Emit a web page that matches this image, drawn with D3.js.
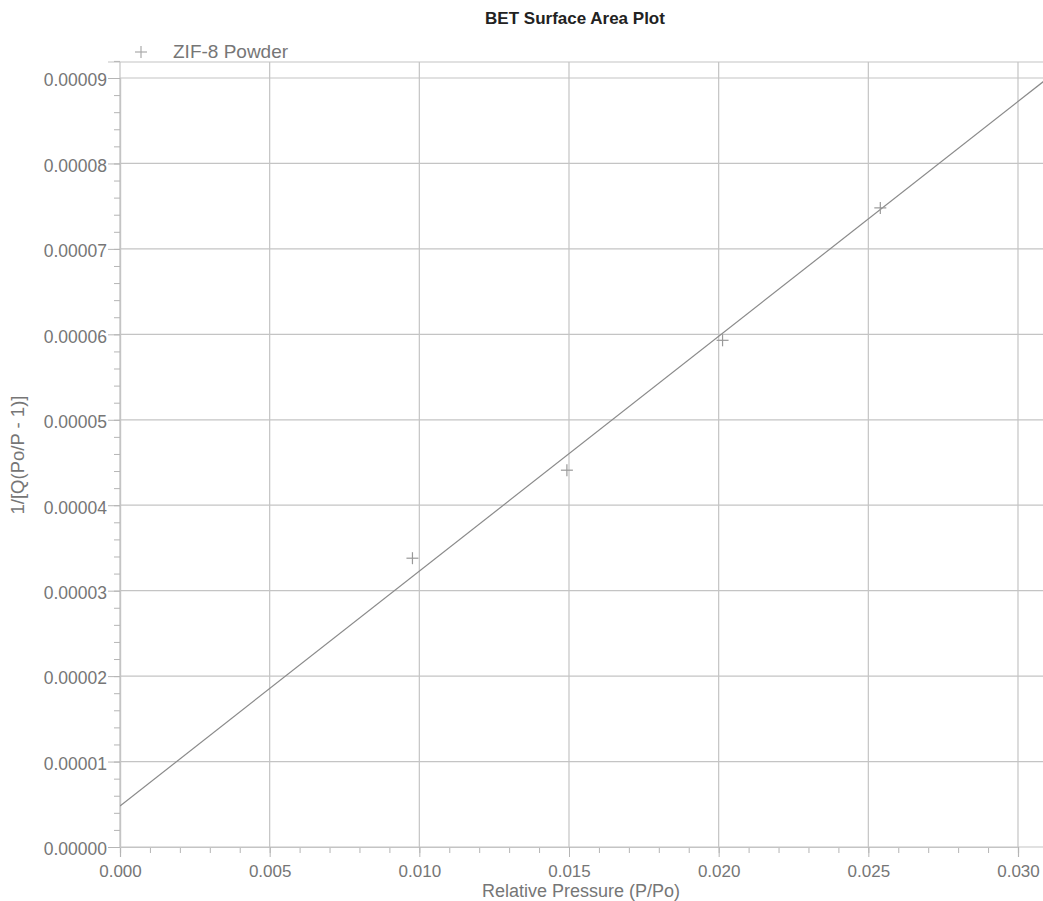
<!DOCTYPE html>
<html><head><meta charset="utf-8">
<script src="https://cdn.jsdelivr.net/npm/d3@7"></script>
<style>body{margin:0;background:#fff;} svg{display:block;}</style>
</head><body>
<svg id="c" width="1043" height="901"></svg>
<script>
const title = "BET Surface Area Plot";
const seriesName = "ZIF-8 Powder";
const xLabel = "Relative Pressure (P/Po)";
const yLabel = "1/[Q(Po/P - 1)]";
const pointsX = [0.00977, 0.01493, 0.02013, 0.0254];
const pointsY = [0.0000338, 0.0000441, 0.0000593, 0.0000748];
const fitX = [0.0, 0.031];
const fitY = [0.0000048, 0.0000900];
const xTicks = [0, 0.005, 0.010, 0.015, 0.020, 0.025, 0.030];
const yTicks = [0, 0.00001, 0.00002, 0.00003, 0.00004, 0.00005, 0.00006, 0.00007, 0.00008, 0.00009];

const svg = d3.select("#c");
const L = 120, R = 1043, T = 62, B = 847;
const x = d3.scaleLinear().domain([0, 0.030]).range([L, 1018]);
const y = d3.scaleLinear().domain([0, 0.00009]).range([B, 78]);
const txt = "#767676", grid = "#c4c4c4", font = "Arial, 'Liberation Sans', sans-serif";

svg.append("defs").append("clipPath").attr("id","clip").append("rect")
  .attr("x",L).attr("y",T).attr("width",R-L).attr("height",B-T);

// grid
const g = svg.append("g");
g.selectAll("line.gx").data(xTicks).join("line")
  .attr("x1",d=>x(d)).attr("x2",d=>x(d)).attr("y1",T).attr("y2",B)
  .attr("stroke",grid).attr("stroke-width",1.2);
g.selectAll("line.gy").data(yTicks).join("line")
  .attr("y1",d=>y(d)).attr("y2",d=>y(d)).attr("x1",L).attr("x2",R)
  .attr("stroke",grid).attr("stroke-width",1.2);
// top frame
g.append("line").attr("x1",L-12).attr("x2",R).attr("y1",T).attr("y2",T).attr("stroke",grid).attr("stroke-width",1.2);

// axes
const xMinor = d3.range(0, 0.0311, 0.001);
const yMinor = d3.range(0, 0.0000921, 0.000002);
const xa = svg.append("g").attr("transform",`translate(0,${B})`);
xa.call(d3.axisBottom(x).tickValues(xMinor).tickSize(6).tickFormat(""));
xa.append("g").call(d3.axisBottom(x).tickValues(xTicks).tickSize(10).tickFormat(d3.format(".3f")));
xa.selectAll("path").attr("stroke",grid).attr("stroke-width",1.2);
const ya = svg.append("g").attr("transform",`translate(${L},0)`);
ya.call(d3.axisLeft(y).tickValues(yMinor).tickSize(6).tickFormat(""));
ya.append("g").call(d3.axisLeft(y).tickValues(yTicks).tickSize(12).tickFormat(d3.format(".5f")));
ya.selectAll("path").attr("stroke",grid).attr("stroke-width",1.2);
svg.selectAll(".tick line").attr("stroke","#b5b5b5");
xa.selectAll("text").attr("fill",txt).attr("font-size",17).attr("font-family",font).attr("dy","0.71em").attr("y",18);
ya.selectAll("text").attr("fill",txt).attr("font-size",17.5).attr("font-family",font).attr("x",-13).attr("dy","0.45em");

// fit line
const line = d3.line().x(d=>x(d[0])).y(d=>y(d[1]));
svg.append("path").datum(fitX.map((v,i)=>[v,fitY[i]])).attr("d",line)
  .attr("clip-path","url(#clip)").attr("fill","none").attr("stroke","#8a8a8a").attr("stroke-width",1.2);

// points
const s = 6;
const pts = svg.append("g").selectAll("g").data(pointsX.map((v,i)=>[v,pointsY[i]])).join("g")
  .attr("transform",d=>`translate(${x(d[0])},${y(d[1])})`);
pts.append("line").attr("x1",-s).attr("x2",s).attr("stroke","#999").attr("stroke-width",1.2);
pts.append("line").attr("y1",-s).attr("y2",s).attr("stroke","#999").attr("stroke-width",1.2);

// title
svg.append("text").attr("x",575).attr("y",24).attr("text-anchor","middle")
  .attr("font-family",font).attr("font-weight","bold").attr("font-size",17).attr("fill","#222").text(title);
// legend
const lg = svg.append("g").attr("transform","translate(141,52)");
lg.append("line").attr("x1",-6).attr("x2",6).attr("stroke","#aaa").attr("stroke-width",1.2);
lg.append("line").attr("y1",-6).attr("y2",6).attr("stroke","#aaa").attr("stroke-width",1.2);
svg.append("text").attr("x",173).attr("y",58).attr("font-family",font).attr("font-size",19).attr("fill",txt).text(seriesName);
// axis labels
svg.append("text").attr("x",581).attr("y",897).attr("text-anchor","middle")
  .attr("font-family",font).attr("font-size",18).attr("fill",txt).text(xLabel);
svg.append("text").attr("transform","translate(24,455) rotate(-90)").attr("text-anchor","middle")
  .attr("font-family",font).attr("font-size",18.5).attr("fill",txt).text(yLabel);
</script>
</body></html>
